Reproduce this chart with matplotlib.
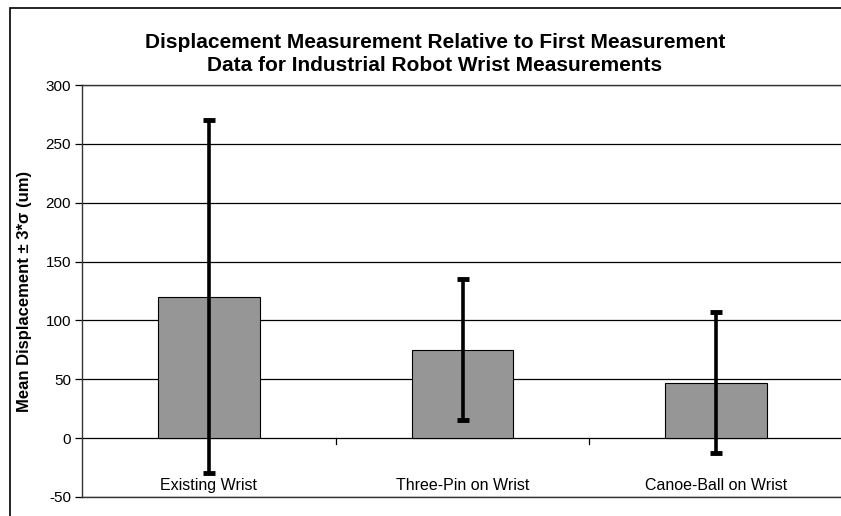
import numpy as np
import matplotlib.pyplot as plt
from matplotlib.patches import Rectangle

plt.rcParams['font.family'] = ['Liberation Sans', 'DejaVu Sans']

categories = ['Existing Wrist', 'Three-Pin on Wrist', 'Canoe-Ball on Wrist']
mean_disp = [120, 75, 47]
three_sigma = [150, 60, 60]
y_ticks = [-50, 0, 50, 100, 150, 200, 250, 300]

fig = plt.figure(figsize=(8.41, 5.16), dpi=100)

# outer chart border (extends past the right/bottom edge like the crop)
fig.patches.append(Rectangle((10 / 841, -0.1), 1.2, (516 - 8) / 516 + 0.1,
                             transform=fig.transFigure, fill=False,
                             edgecolor='black', linewidth=1.2))

ax = fig.add_axes([82 / 841, 19 / 516, 761 / 841, 412 / 516])
x = np.arange(len(categories))

for yv in y_ticks:
    ax.axhline(yv, color='black', linewidth=0.9, zorder=0)

ax.bar(x, mean_disp, width=0.40, color='#969696', edgecolor='black',
       linewidth=0.8, zorder=2)
ax.errorbar(x, mean_disp, yerr=three_sigma, fmt='none', ecolor='black',
            elinewidth=2.6, capsize=4, capthick=3.5, zorder=3)

ax.set_xlim(-0.5, 2.5)
ax.set_ylim(-50, 300)
ax.set_yticks(y_ticks)
ax.set_yticklabels([str(v) for v in y_ticks], fontsize=11)
ax.tick_params(axis='y', direction='out', length=5, width=0.9, pad=3)
ax.set_xticks([])

# category tick marks on the zero line
for xt in [0.5, 1.5]:
    ax.plot([xt, xt], [0, -5], color='black', linewidth=0.9, zorder=1)

for i, name in enumerate(categories):
    ax.text(i, -40, name, ha='center', va='center', fontsize=11.5)

for s in ax.spines.values():
    s.set_color('#333333')
    s.set_linewidth(1.0)

ax.set_ylabel('Mean Displacement \u00b1 3*\u03c3 (um)', fontsize=12,
              fontweight='bold')
ax.yaxis.set_label_coords(-50 / 761, 0.50)

fig.text(435 / 841, 1 - 54 / 516,
         'Displacement Measurement Relative to First Measurement\n'
         'Data for Industrial Robot Wrist Measurements',
         ha='center', va='center', fontsize=15, fontweight='bold',
         linespacing=1.25)

fig.savefig('out.png', dpi=100)
